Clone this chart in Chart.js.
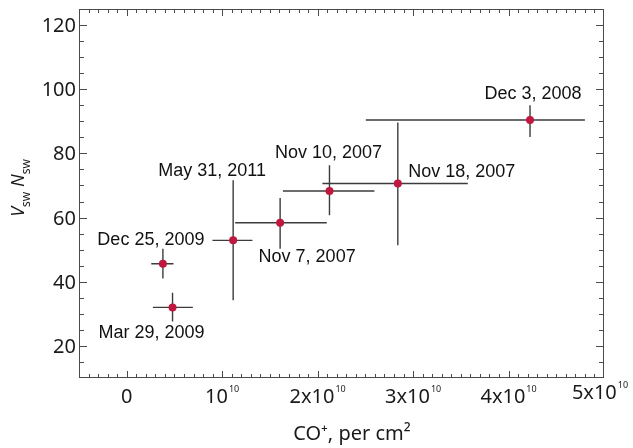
<!DOCTYPE html>
<html>
<head>
<meta charset="utf-8">
<script src="https://cdn.jsdelivr.net/npm/chart.js@4"></script>
<style>
  body { margin: 0; background: #fff; }
</style>
</head>
<body>
<canvas id="scatterChart" width="633" height="448"></canvas>
<script>
// observation dates, one per point
const dates = ["Dec 25, 2009", "Mar 29, 2009", "May 31, 2011", "Nov 7, 2007", "Nov 10, 2007", "Nov 18, 2007", "Dec 3, 2008"];
// CO+ column density (per cm2) and its lower / upper bounds
const coCol  = [0.379e10, 0.480e10, 1.115e10, 1.607e10, 2.124e10, 2.840e10, 4.225e10];
const coLow  = [0.257e10, 0.274e10, 0.898e10, 1.136e10, 1.636e10, 2.050e10, 2.505e10];
const coHigh = [0.490e10, 0.693e10, 1.317e10, 2.096e10, 2.595e10, 3.573e10, 4.800e10];
// Vsw * Nsw and its lower / upper bounds
const vn     = [45.6, 32.0, 52.9, 58.4, 68.3, 70.6, 90.4];
const vnLow  = [41.0, 27.6, 34.2, 50.3, 60.7, 51.4, 85.1];
const vnHigh = [50.3, 36.6, 71.6, 66.1, 76.3, 89.6, 95.0];
// tick labels
const xTicks = [0, 1e10, 2e10, 3e10, 4e10, 5e10];
const xTickBase = ["0", "10", "2x10", "3x10", "4x10", "5x10"];
const xTickExp = ["", "10", "10", "10", "10", "10"];
const yTicks = [20, 40, 60, 80, 100, 120];

// where each date label sits relative to its point (px)
const labelOffset = [[-12, -24], [-21, 26], [-21, -69], [27, 34], [-1, -38], [64, -12], [3, -26]];

const frameColor = "#4a4a4a";
const barColor = "#3c3c3c";

var errorBars = {
  id: "errorBars",
  beforeDatasetsDraw: function (chart) {
    const ctx = chart.ctx;
    const xs = chart.scales.x, ys = chart.scales.y;
    ctx.save();
    ctx.strokeStyle = barColor;
    ctx.lineWidth = 1.4;
    for (let i = 0; i < coCol.length; i++) {
      const px = xs.getPixelForValue(coCol[i]);
      const py = ys.getPixelForValue(vn[i]);
      ctx.beginPath();
      ctx.moveTo(xs.getPixelForValue(coLow[i]), py);
      ctx.lineTo(xs.getPixelForValue(coHigh[i]), py);
      ctx.moveTo(px, ys.getPixelForValue(vnLow[i]));
      ctx.lineTo(px, ys.getPixelForValue(vnHigh[i]));
      ctx.stroke();
    }
    ctx.restore();
  }
};

var frameAndText = {
  id: "frameAndText",
  afterDraw: function (chart) {
    const ctx = chart.ctx;
    const a = chart.chartArea;
    const xs = chart.scales.x, ys = chart.scales.y;
    ctx.save();

    // box with inward ticks on all four sides
    ctx.strokeStyle = frameColor;
    ctx.lineWidth = 1;
    ctx.strokeRect(Math.round(a.left) + 0.5, Math.round(a.top) + 0.5,
      Math.round(a.right - a.left) - 1, Math.round(a.bottom - a.top) - 1);
    ctx.beginPath();
    for (let k = -4; k < 50; k++) {
      const x = Math.round(xs.getPixelForValue(k * 1e9)) + 0.5;
      const len = k % 10 === 0 ? 7 : 4;
      ctx.moveTo(x, a.bottom); ctx.lineTo(x, a.bottom - len);
      ctx.moveTo(x, a.top); ctx.lineTo(x, a.top + len);
    }
    for (let v = 15; v < 125; v += 5) {
      const y = Math.round(ys.getPixelForValue(v)) + 0.5;
      const len = v % 20 === 0 ? 8 : 5;
      ctx.moveTo(a.left, y); ctx.lineTo(a.left + len, y);
      ctx.moveTo(a.right, y); ctx.lineTo(a.right - len, y);
    }
    ctx.stroke();

    // y tick labels
    ctx.fillStyle = "#1a1a1a";
    ctx.font = "20px 'Noto Sans'";
    ctx.textAlign = "right";
    ctx.textBaseline = "alphabetic";
    yTicks.forEach(function (v) {
      ctx.fillText(String(v), a.left - 3, ys.getPixelForValue(v) + 7);
    });

    // x tick labels with superscript exponent
    ctx.textAlign = "left";
    xTicks.forEach(function (v, i) {
      ctx.font = "20px 'Noto Sans'";
      const wb = ctx.measureText(xTickBase[i]).width;
      ctx.font = "9px 'Noto Sans'";
      const we = xTickExp[i] ? ctx.measureText(xTickExp[i]).width + 1 : 0;
      const last = i === xTicks.length - 1;
      let x0 = xs.getPixelForValue(v) - (wb + we) / 2 - (last ? 4 : 0);
      const base = 403 - (last ? 4 : 0);
      ctx.font = "20px 'Noto Sans'";
      ctx.fillText(xTickBase[i], x0, base);
      if (xTickExp[i]) {
        ctx.font = "9px 'Noto Sans'";
        ctx.fillText(xTickExp[i], x0 + wb + 1, base - 11);
      }
    });

    // x axis title
    ctx.font = "20px 'Noto Sans'";
    ctx.textAlign = "center";
    ctx.fillText("CO\u207A, per cm\u00B2", 352, 440);

    // y axis title: V_sw N_sw, rotated
    ctx.save();
    ctx.translate(24, 188);
    ctx.rotate(-Math.PI / 2);
    ctx.textAlign = "left";
    const runs = [
      ["V", "italic 18px 'Noto Sans'", 0],
      ["sw", "12px 'Noto Sans'", 6],
      [" ", "18px 'Noto Sans'", 0],
      ["N", "italic 18px 'Noto Sans'", 0],
      ["sw", "12px 'Noto Sans'", 6]
    ];
    let total = 0;
    runs.forEach(function (r) { ctx.font = r[1]; total += ctx.measureText(r[0]).width; });
    let cx = -total / 2;
    runs.forEach(function (r) {
      ctx.font = r[1];
      ctx.fillText(r[0], cx, r[2]);
      cx += ctx.measureText(r[0]).width;
    });
    ctx.restore();

    // date labels next to each point
    ctx.font = "18px 'Liberation Sans'";
    ctx.textAlign = "center";
    ctx.textBaseline = "middle";
    ctx.fillStyle = "#111";
    dates.forEach(function (d, i) {
      const px = xs.getPixelForValue(coCol[i]);
      const py = ys.getPixelForValue(vn[i]);
      ctx.fillText(d, px + labelOffset[i][0], py + labelOffset[i][1]);
    });

    ctx.restore();
  }
};

var pointData = coCol.map(function (x, i) { return { x: x, y: vn[i] }; });

var scatterChart = new Chart(document.getElementById("scatterChart"), {
  type: "scatter",
  data: {
    datasets: [{
      data: pointData,
      pointRadius: 4,
      pointBackgroundColor: "#c0173f",
      pointBorderWidth: 0,
      pointHoverRadius: 4
    }]
  },
  options: {
    responsive: false,
    animation: false,
    layout: { padding: { left: 79, right: 29, top: 9, bottom: 70 } },
    plugins: { legend: { display: false }, tooltip: { enabled: false } },
    scales: {
      x: { type: "linear", min: -0.5e10, max: 5e10, display: false },
      y: { type: "linear", min: 10, max: 125, display: false }
    }
  },
  plugins: [errorBars, frameAndText]
});
</script>
</body>
</html>
